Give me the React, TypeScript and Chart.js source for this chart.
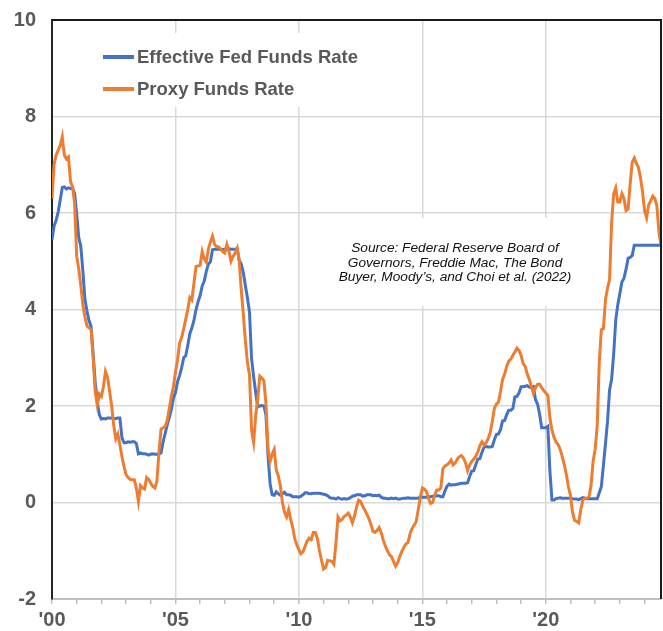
import React, { useEffect, useRef } from "react";
import { Chart, registerables } from "chart.js";

Chart.register(...registerables);

// Monthly, Jan 2000 .. Sep 2024
const startYear = 2000;

const effectiveFedFunds: number[] = [
  // 2000
  5.45, 5.73, 5.85, 6.02, 6.27, 6.53, 6.54, 6.50, 6.52, 6.51, 6.51, 6.40,
  // 2001
  5.98, 5.49, 5.31, 4.80, 4.21, 3.97, 3.77, 3.65, 3.07, 2.49, 2.09, 1.82,
  // 2002
  1.73, 1.74, 1.73, 1.75, 1.75, 1.75, 1.73, 1.74, 1.75, 1.75, 1.34, 1.24,
  // 2003
  1.24, 1.26, 1.25, 1.26, 1.26, 1.22, 1.01, 1.03, 1.01, 1.01, 1.00, 0.98,
  // 2004
  1.00, 1.01, 1.00, 1.00, 1.00, 1.03, 1.26, 1.43, 1.61, 1.76, 1.93, 2.16,
  // 2005
  2.28, 2.50, 2.63, 2.79, 3.00, 3.04, 3.26, 3.50, 3.62, 3.78, 4.00, 4.16,
  // 2006
  4.29, 4.49, 4.59, 4.79, 4.94, 4.99, 5.24, 5.25, 5.25, 5.25, 5.25, 5.24,
  // 2007
  5.25, 5.26, 5.26, 5.25, 5.25, 5.25, 5.26, 5.02, 4.94, 4.76, 4.49, 4.24,
  // 2008
  3.94, 2.98, 2.61, 2.28, 1.98, 2.00, 2.01, 2.00, 1.81, 0.97, 0.39, 0.16,
  // 2009
  0.15, 0.22, 0.18, 0.15, 0.18, 0.21, 0.16, 0.16, 0.15, 0.12, 0.12, 0.12,
  // 2010
  0.11, 0.13, 0.16, 0.20, 0.20, 0.18, 0.18, 0.19, 0.19, 0.19, 0.19, 0.18,
  // 2011
  0.17, 0.16, 0.14, 0.10, 0.09, 0.09, 0.07, 0.10, 0.08, 0.07, 0.08, 0.07,
  // 2012
  0.08, 0.10, 0.13, 0.14, 0.16, 0.16, 0.16, 0.13, 0.14, 0.16, 0.16, 0.16,
  // 2013
  0.14, 0.15, 0.14, 0.15, 0.11, 0.09, 0.09, 0.08, 0.08, 0.09, 0.08, 0.09,
  // 2014
  0.07, 0.07, 0.08, 0.09, 0.09, 0.10, 0.09, 0.09, 0.09, 0.09, 0.09, 0.12,
  // 2015
  0.11, 0.11, 0.11, 0.12, 0.12, 0.13, 0.13, 0.14, 0.14, 0.12, 0.12, 0.24,
  // 2016
  0.34, 0.38, 0.36, 0.37, 0.37, 0.38, 0.39, 0.40, 0.40, 0.40, 0.41, 0.54,
  // 2017
  0.65, 0.66, 0.79, 0.90, 0.91, 1.04, 1.15, 1.16, 1.15, 1.15, 1.16, 1.30,
  // 2018
  1.41, 1.42, 1.51, 1.69, 1.70, 1.82, 1.91, 1.91, 1.95, 2.19, 2.20, 2.27,
  // 2019
  2.40, 2.40, 2.41, 2.42, 2.39, 2.38, 2.40, 2.13, 2.04, 1.83, 1.55, 1.55,
  // 2020
  1.55, 1.58, 0.65, 0.05, 0.05, 0.08, 0.09, 0.10, 0.09, 0.09, 0.09, 0.09,
  // 2021
  0.09, 0.08, 0.07, 0.07, 0.06, 0.08, 0.10, 0.09, 0.08, 0.08, 0.08, 0.08,
  // 2022
  0.08, 0.08, 0.20, 0.33, 0.77, 1.21, 1.68, 2.33, 2.56, 3.08, 3.78, 4.10,
  // 2023
  4.33, 4.57, 4.65, 4.83, 5.06, 5.08, 5.12, 5.33, 5.33, 5.33, 5.33, 5.33,
  // 2024
  5.33, 5.33, 5.33, 5.33, 5.33, 5.33, 5.33, 5.33, 5.33,
];

const proxyFundsRate: number[] = [
  // 2000
  6.30, 7.00, 7.20, 7.30, 7.40, 7.58, 7.20, 7.12, 7.16, 6.65, 6.54, 6.20,
  // 2001
  5.10, 4.84, 4.50, 4.10, 3.85, 3.66, 3.62, 3.58, 3.00, 2.30, 2.02, 2.25,
  // 2002
  2.20, 2.40, 2.72, 2.60, 2.30, 2.00, 1.60, 1.32, 1.42, 1.20, 0.95, 0.75,
  // 2003
  0.58, 0.52, 0.48, 0.47, 0.47, 0.30, 0.02, 0.35, 0.30, 0.28, 0.52, 0.48,
  // 2004
  0.40, 0.33, 0.30, 0.45, 1.05, 1.52, 1.55, 1.58, 1.70, 1.95, 2.20, 2.40,
  // 2005
  2.70, 2.95, 3.30, 3.42, 3.60, 3.80, 4.00, 4.25, 4.20, 4.55, 4.89, 4.90,
  // 2006
  4.92, 5.20, 5.05, 4.98, 5.25, 5.40, 5.52, 5.35, 5.30, 5.30, 5.25, 5.20,
  // 2007
  5.17, 5.35, 5.20, 5.00, 5.10, 5.17, 5.27, 5.00, 4.40, 3.90, 3.35, 2.90,
  // 2008
  2.65, 1.50, 1.25, 1.80, 2.15, 2.62, 2.58, 2.52, 2.05, 1.10, 0.85, 1.00,
  // 2009
  1.10, 0.68, 0.55, 0.35, 0.00, -0.20, -0.30, -0.15, -0.35, -0.52, -0.75, -0.88,
  // 2010
  -0.98, -1.06, -1.02, -0.91, -0.80, -0.74, -0.77, -0.62, -0.62, -0.75, -1.00, -1.20,
  // 2011
  -1.38, -1.35, -1.20, -1.21, -1.22, -1.28, -0.85, -0.30, -0.38, -0.35, -0.29, -0.26,
  // 2012
  -0.22, -0.30, -0.42, -0.28, -0.10, 0.05, 0.02, -0.08, -0.15, -0.24, -0.33, -0.45,
  // 2013
  -0.60, -0.62, -0.58, -0.52, -0.62, -0.78, -0.90, -1.00, -1.08, -1.12, -1.22, -1.32,
  // 2014
  -1.25, -1.12, -1.02, -0.93, -0.86, -0.83, -0.65, -0.54, -0.47, -0.40, -0.15, 0.10,
  // 2015
  0.30, 0.28, 0.23, 0.08, -0.02, 0.00, 0.15, 0.26, 0.26, 0.30, 0.70, 0.76,
  // 2016
  0.78, 0.82, 0.88, 0.78, 0.82, 0.90, 0.95, 0.97, 0.92, 0.82, 0.66, 0.78,
  // 2017
  0.85, 0.90, 0.96, 1.05, 1.18, 1.26, 1.19, 1.24, 1.32, 1.45, 1.68, 1.95,
  // 2018
  2.04, 2.08, 2.30, 2.55, 2.66, 2.82, 2.93, 2.97, 3.05, 3.12, 3.20, 3.15,
  // 2019
  3.05, 2.88, 2.82, 2.66, 2.55, 2.40, 2.26, 2.38, 2.45, 2.45, 2.38, 2.32,
  // 2020
  2.27, 2.22, 1.75, 1.50, 1.35, 1.25, 1.20, 1.10, 0.95, 0.78, 0.58, 0.32,
  // 2021
  0.15, -0.20, -0.37, -0.39, -0.42, -0.15, 0.05, 0.09, 0.09, 0.12, 0.35, 0.85,
  // 2022
  1.10, 1.60, 2.90, 3.58, 3.60, 4.20, 4.44, 4.62, 5.80, 6.40, 6.52, 6.23,
  // 2023
  6.23, 6.40, 6.30, 6.05, 6.08, 6.60, 7.05, 7.14, 7.03, 6.95, 6.74, 6.45,
  // 2024
  6.05, 5.90, 6.17, 6.25, 6.35, 6.30, 6.15, 5.60, 5.33,
];

const xTickYears: number[] = [2000, 2005, 2010, 2015, 2020];
const xTickLabels: string[] = ["'00", "'05", "'10", "'15", "'20"];

const seriesNames: string[] = ["Effective Fed Funds Rate", "Proxy Funds Rate"];
const sourceLines: string[] = [
  "Source: Federal Reserve Board of",
  "Governors, Freddie Mac, The Bond",
  "Buyer, Moody\u2019s, and Choi et al. (2022)",
];

const BLUE = "#4472C4";
const ORANGE = "#ED7D31";
const TEXT = "#595959";
const FONT = "'Liberation Sans', Arial, sans-serif";

const overlayPlugin = {
  id: "overlay",
  beforeDatasetsDraw(chart: any) {
    const ctx = chart.ctx;
    ctx.save();
    // white boxes hiding gridlines behind legend and source note
    ctx.fillStyle = "#ffffff";
    ctx.fillRect(95, 33, 270, 74);
    ctx.fillRect(305, 218, 272, 88);

    // legend
    const legendY = [57, 89];
    const colors = [BLUE, ORANGE];
    ctx.lineWidth = 4;
    ctx.lineCap = "butt";
    ctx.font = `bold 18.5px ${FONT}`;
    ctx.textBaseline = "middle";
    ctx.textAlign = "left";
    for (let i = 0; i < 2; i++) {
      ctx.strokeStyle = colors[i];
      ctx.beginPath();
      ctx.moveTo(103, legendY[i]);
      ctx.lineTo(134, legendY[i]);
      ctx.stroke();
      ctx.fillStyle = TEXT;
      ctx.fillText(seriesNames[i], 137, legendY[i] + 1);
    }

    // source note
    ctx.font = `italic 13.7px ${FONT}`;
    ctx.fillStyle = "#111111";
    ctx.textAlign = "center";
    const sy = [248.5, 263, 277.5];
    sourceLines.forEach((t, i) => ctx.fillText(t, 455, sy[i]));

    ctx.restore();
  },
  afterDraw(chart: any) {
    const ctx = chart.ctx;
    const a = chart.chartArea;
    ctx.save();
    ctx.strokeStyle = "#1a1a1a";
    ctx.lineWidth = 2;
    ctx.beginPath();
    ctx.moveTo(a.left, a.top);
    ctx.lineTo(a.right, a.top);
    ctx.lineTo(a.right, a.bottom);
    ctx.stroke();
    ctx.restore();
  },
};

export default function App() {
  const canvasRef = useRef<HTMLCanvasElement | null>(null);

  useEffect(() => {
    if (!canvasRef.current) return;
    const toPoints = (arr: number[]) =>
      arr.map((v, i) => ({ x: startYear + i / 12, y: v }));
    const xMax = startYear + (effectiveFedFunds.length - 1) / 12;

    const chart = new Chart(canvasRef.current, {
      type: "line",
      data: {
        datasets: [
          {
            label: seriesNames[0],
            data: toPoints(effectiveFedFunds),
            borderColor: BLUE,
            borderWidth: 3,
            pointRadius: 0,
            tension: 0,
            order: 1,
          },
          {
            label: seriesNames[1],
            data: toPoints(proxyFundsRate),
            borderColor: ORANGE,
            borderWidth: 3,
            pointRadius: 0,
            tension: 0,
            order: 0,
          },
        ],
      },
      options: {
        responsive: false,
        animation: false,
        devicePixelRatio: 1,
        layout: { padding: { top: 20, right: 2, left: 0, bottom: 0 } },
        plugins: {
          legend: { display: false },
          tooltip: { enabled: false },
        },
        scales: {
          x: {
            type: "linear",
            min: startYear,
            max: xMax,
            afterFit: (s: any) => {
              s.height = 32;
            },
            ticks: {
              stepSize: 1,
              includeBounds: false,
              autoSkip: false,
              maxRotation: 0,
              minRotation: 0,
              padding: 4,
              color: TEXT,
              font: { family: FONT, size: 20, weight: "bold" },
              callback: (value: any) => {
                const idx = xTickYears.indexOf(Number(value));
                return idx >= 0 ? xTickLabels[idx] : "";
              },
            },
            grid: {
              color: (c: any) =>
                c.tick && xTickYears.indexOf(c.tick.value) >= 0 && c.tick.value !== startYear
                  ? "#d9d9d9"
                  : "rgba(0,0,0,0)",
              lineWidth: 1.5,
              drawTicks: true,
              tickLength: 5,
              tickColor: "#bfbfbf",
              tickWidth: 1.5,
            },
            border: { color: "#bfbfbf", width: 2 },
          },
          y: {
            min: -2,
            max: 10,
            afterFit: (s: any) => {
              s.width = 52;
            },
            ticks: {
              stepSize: 2,
              padding: 0,
              color: TEXT,
              font: { family: FONT, size: 20, weight: "bold" },
            },
            grid: {
              color: "#d9d9d9",
              lineWidth: 1.5,
              drawTicks: true,
              tickLength: 16,
              tickColor: "rgba(0,0,0,0)",
            },
            border: { color: "#262626", width: 2 },
          },
        },
      },
      plugins: [overlayPlugin],
    } as any);

    return () => chart.destroy();
  }, []);

  return (
    <div style={{ position: "absolute", left: 0, top: 0, width: 663, height: 631 }}>
      <canvas ref={canvasRef} width={663} height={631} style={{ display: "block" }} />
    </div>
  );
}
